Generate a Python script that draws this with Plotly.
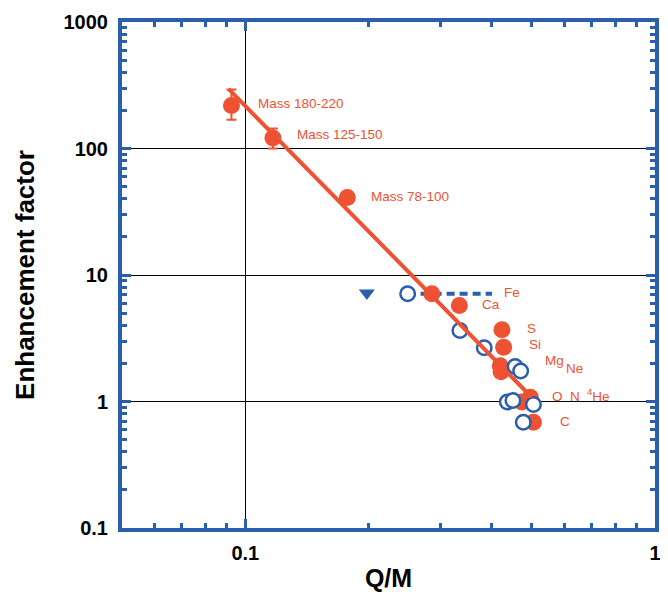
import numpy as np
import plotly.graph_objects as go

RED = "#EE5232"
BLUE = "#2B5EAB"

# Heavy-ion data (red filled)
mass_x = [0.0925, 0.1168, 0.1774]
mass_y = [219, 121, 41]
mass_err_plus = [74, 23, 0]
mass_err_minus = [50, 21, 0]

elem_red_x = [0.2853, 0.333, 0.423, 0.427, 0.419, 0.421, 0.473, 0.496, 0.505]
elem_red_y = [7.1, 5.74, 3.69, 2.69, 1.92, 1.72, 0.99, 1.08, 0.686]

# Open blue circles
blue_x = [0.249, 0.334, 0.383, 0.4555, 0.470, 0.436, 0.450, 0.505, 0.477]
blue_y = [7.1, 3.64, 2.66, 1.89, 1.74, 0.99, 1.02, 0.947, 0.686]

# Upper limit triangle
tri_x = [0.198]
tri_y = [7.2]

# Dashed range for Fe
fe_dash_x = [0.249, 0.40]
fe_dash_y = [7.1, 7.1]

# Power-law fit line
fit_x = [0.091, 0.50]
fit_y = [296, 1.08]

# Labels
label_text = ["Mass 180-220", "Mass 125-150", "Mass 78-100", "Fe", "Ca", "S", "Si",
              "Mg", "Ne", "O", "N", "<sup>4</sup>He", "C"]
label_x = [0.1063, 0.1324, 0.2006, 0.423, 0.374, 0.482, 0.486, 0.534, 0.600, 0.555, 0.614, 0.675, 0.581]
label_y = [227, 129, 41.8, 7.31, 5.85, 3.76, 2.82, 2.11, 1.81, 1.095, 1.095, 1.135, 0.695]

fig = go.Figure()

fig.add_trace(go.Scatter(
    x=fe_dash_x, y=fe_dash_y, mode="lines",
    line=dict(color=BLUE, width=4, dash="8px,5px"), showlegend=False, hoverinfo="skip"))

fig.add_trace(go.Scatter(
    x=mass_x, y=mass_y, mode="markers",
    marker=dict(color=RED, size=17, line=dict(width=0)),
    error_y=dict(type="data", symmetric=False, array=mass_err_plus, arrayminus=mass_err_minus,
                 color=RED, thickness=2, width=5),
    showlegend=False))

fig.add_trace(go.Scatter(
    x=elem_red_x, y=elem_red_y, mode="markers",
    marker=dict(color=RED, size=17, line=dict(width=0)), showlegend=False))

fig.add_trace(go.Scatter(
    x=blue_x, y=blue_y, mode="markers",
    marker=dict(color="white", size=14.5, line=dict(color=BLUE, width=2.5)), showlegend=False))

fig.add_trace(go.Scatter(
    x=tri_x, y=tri_y, mode="markers",
    marker=dict(color=BLUE, size=14, symbol="triangle-down", line=dict(width=0)), showlegend=False))

fig.add_trace(go.Scatter(
    x=fit_x, y=fit_y, mode="lines",
    line=dict(color=RED, width=4), showlegend=False))

for t, lx, ly in zip(label_text, label_x, label_y):
    fig.add_annotation(x=np.log10(lx), y=np.log10(ly), xref="x", yref="y", text=t,
                       showarrow=False, xanchor="left", yanchor="middle",
                       font=dict(family="Liberation Sans, Arial, sans-serif", size=13.5, color=RED))

axis_common = dict(
    type="log", showline=True, linecolor=BLUE, linewidth=4, mirror="ticks",
    ticks="inside", ticklen=9, tickwidth=3, tickcolor=BLUE,
    dtick=1, showgrid=True, gridcolor="black", gridwidth=1, zeroline=False,
    tickfont=dict(family="Liberation Sans, Arial, sans-serif", size=20, color="black", weight="bold"),
    minor=dict(ticks="inside", ticklen=5, tickwidth=2.5, tickcolor=BLUE, dtick="D1", showgrid=False),
)

fig.update_xaxes(**axis_common, range=[np.log10(0.05), 0], ticklabelstandoff=4,
                 title=dict(text="Q/M", standoff=16,
                            font=dict(family="Liberation Sans, Arial, sans-serif", size=25, color="black", weight="bold")))
fig.update_yaxes(**axis_common, range=[-1, 3], ticklabelstandoff=6,
                 title=dict(text="Enhancement factor", standoff=22,
                            font=dict(family="Liberation Sans, Arial, sans-serif", size=26, color="black", weight="bold")))

# page body has an 8px margin, so the figure is 8px smaller and shifted
fig.update_layout(
    width=660, height=584,
    margin=dict(l=114, r=13, t=14, b=64, autoexpand=False),
    plot_bgcolor="white", paper_bgcolor="white",
    showlegend=False,
)

fig.write_html("out.html")
